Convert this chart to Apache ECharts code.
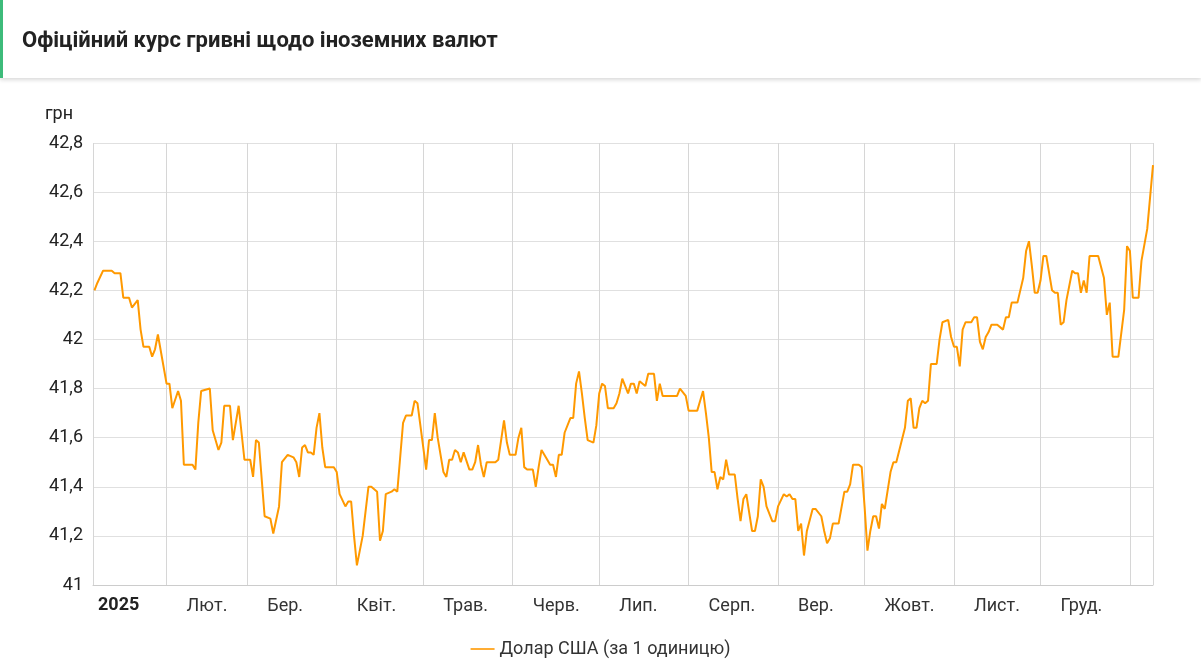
<!DOCTYPE html>
<html><head><meta charset="utf-8">
<script src="https://cdn.jsdelivr.net/npm/echarts@6/dist/echarts.min.js"></script>
<style>
html,body{margin:0;padding:0;background:#fff;font-family:Roboto,sans-serif;}
#hdr{position:absolute;left:0;top:0;width:1201px;height:78px;border-left:3px solid #3dbb7a;box-sizing:border-box;box-shadow:0 2px 4px rgba(0,0,0,0.15);background:#fff;}
#hdr span{position:absolute;left:19px;top:27px;font-size:22px;font-weight:bold;color:#222;}
#c{position:absolute;left:0;top:0;width:1201px;height:667px;}
</style></head><body>
<div id="c"></div>
<div id="hdr"><span>Офіційний курс гривні щодо іноземних валют</span></div>
<script>
const seriesName = 'Долар США (за 1 одиницю)';
const unitLabel = 'грн';
const monthLabels = ['Січ.','Лют.','Бер.','Квіт.','Трав.','Черв.','Лип.','Серп.','Вер.','Жовт.','Лист.','Груд.'];
// day offsets from 2025-01-01
const days = [6,7,9,12,13,14,15,16,18,19,21,22,23,25,26,27,28,31,32,33,35,36,37,40,41,42,43,46,47,49,50,51,53,54,56,58,60,61,62,63,65,67,68,70,71,73,75,76,77,78,79,80,81,82,83,84,85,86,89,90,91,93,94,95,96,97,99,101,102,104,105,106,107,109,110,111,113,114,116,117,118,120,121,122,123,124,125,127,128,129,130,131,132,133,134,136,137,138,139,140,141,142,145,146,147,148,149,150,152,153,154,155,156,158,159,160,161,163,164,165,166,167,168,169,171,172,173,174,175,176,177,179,180,181,182,183,184,186,187,188,189,191,192,193,194,195,197,198,200,201,202,203,205,206,208,209,211,212,215,216,217,218,219,220,221,222,223,224,225,226,228,229,230,231,232,234,235,236,237,238,239,241,242,243,245,246,247,248,249,250,251,252,253,255,256,258,259,260,261,262,264,266,267,268,269,271,272,273,274,275,276,277,278,279,280,282,283,284,287,288,289,290,291,292,293,294,295,296,298,299,300,302,303,304,305,306,307,308,310,311,312,313,314,315,316,317,319,321,322,323,324,326,328,329,330,331,332,333,334,335,336,338,339,340,341,342,343,345,346,347,348,349,350,351,354,356,357,358,359,361,363,364,365,366,368,369,371,373];
const usd = [42.20,42.23,42.28,42.28,42.27,42.27,42.27,42.17,42.17,42.13,42.16,42.04,41.97,41.97,41.93,41.96,42.02,41.82,41.82,41.72,41.79,41.75,41.49,41.49,41.47,41.66,41.79,41.80,41.63,41.55,41.58,41.73,41.73,41.59,41.73,41.51,41.51,41.44,41.59,41.58,41.28,41.27,41.21,41.32,41.50,41.53,41.52,41.50,41.44,41.56,41.57,41.54,41.54,41.53,41.64,41.70,41.56,41.48,41.48,41.46,41.37,41.32,41.34,41.34,41.20,41.08,41.20,41.40,41.40,41.38,41.18,41.22,41.37,41.38,41.39,41.38,41.66,41.69,41.69,41.75,41.74,41.56,41.47,41.59,41.59,41.70,41.60,41.46,41.44,41.51,41.51,41.55,41.54,41.50,41.54,41.47,41.47,41.50,41.57,41.49,41.44,41.50,41.50,41.51,41.59,41.67,41.58,41.53,41.53,41.60,41.64,41.48,41.47,41.47,41.40,41.48,41.55,41.51,41.49,41.49,41.44,41.53,41.53,41.62,41.68,41.68,41.82,41.87,41.78,41.68,41.59,41.58,41.65,41.78,41.82,41.81,41.72,41.72,41.74,41.78,41.84,41.78,41.82,41.82,41.78,41.83,41.81,41.86,41.86,41.75,41.82,41.77,41.77,41.77,41.77,41.80,41.77,41.71,41.71,41.75,41.79,41.70,41.60,41.46,41.46,41.39,41.44,41.43,41.51,41.45,41.45,41.35,41.26,41.35,41.37,41.22,41.22,41.28,41.43,41.40,41.32,41.26,41.26,41.32,41.37,41.36,41.37,41.35,41.35,41.22,41.25,41.12,41.22,41.31,41.31,41.28,41.22,41.17,41.19,41.25,41.25,41.38,41.38,41.41,41.49,41.49,41.48,41.32,41.14,41.22,41.28,41.28,41.23,41.33,41.31,41.46,41.50,41.50,41.64,41.75,41.76,41.64,41.64,41.72,41.75,41.74,41.75,41.90,41.90,42.00,42.07,42.08,42.01,41.97,41.97,41.89,42.04,42.07,42.07,42.09,42.09,41.99,41.96,42.01,42.03,42.06,42.06,42.04,42.09,42.09,42.15,42.15,42.25,42.36,42.40,42.30,42.19,42.19,42.24,42.34,42.34,42.20,42.19,42.19,42.06,42.07,42.16,42.28,42.27,42.27,42.19,42.24,42.19,42.34,42.34,42.25,42.10,42.15,41.93,41.93,42.12,42.38,42.36,42.17,42.17,42.32,42.45,42.71];

const DAY = 86400000;
const base = Date.UTC(2025,0,1);
const data = days.map((d,i)=>[base + d*DAY, usd[i]]);
const chart = echarts.init(document.getElementById('c'));
chart.setOption({
  animation:false,
  textStyle:{fontFamily:'Roboto'},
  grid:{left:93,right:48,top:143,bottom:82},
  xAxis:{
    type:'time', min: base+5.5*DAY, max: base+373*DAY,
    splitNumber:12, minInterval:28*DAY, maxInterval:31*DAY,
    axisLine:{show:true,lineStyle:{color:'#ccc'}}, axisTick:{show:false},
    splitLine:{show:true,lineStyle:{color:'#d6d6d6'}},
    axisLabel:{
      color:'#333', fontSize:18, align:'left', padding:[0,0,0,20], margin:12,
      showMinLabel:false, showMaxLabel:false,
      formatter:function(v){const dt=new Date(v); if(dt.getUTCDate()!==1||dt.getUTCFullYear()!==2025) return ''; return monthLabels[dt.getUTCMonth()];}
    }
  },
  yAxis:{
    type:'value', min:41, max:42.8, interval:0.2,
    axisLine:{show:false}, axisTick:{show:false},
    splitLine:{lineStyle:{color:'#e0e0e0'}},
    axisLabel:{color:'#222',fontSize:18,margin:10,formatter:v=>String(Math.round(v*10)/10).replace('.',',')}
  },
  legend:{bottom:4,left:'center',icon:'path://M0,0L30,0L30,2L0,2Z',itemWidth:24,itemHeight:2,textStyle:{color:'#333',fontSize:18},data:[seriesName]},
  graphic:[
    {type:'text',left:98,top:596,style:{text:'2025',fontSize:18,fontWeight:'bold',fill:'#222',fontFamily:'Roboto'}},
    {type:'text',left:45,top:105,style:{text:unitLabel,fontSize:18,fill:'#222',fontFamily:'Roboto'}}
  ],
  series:[{name:seriesName,type:'line',data:data,symbol:'none',lineStyle:{color:'#ff9900',width:2},itemStyle:{color:'#ff9900'}}]
});
</script></body></html>
